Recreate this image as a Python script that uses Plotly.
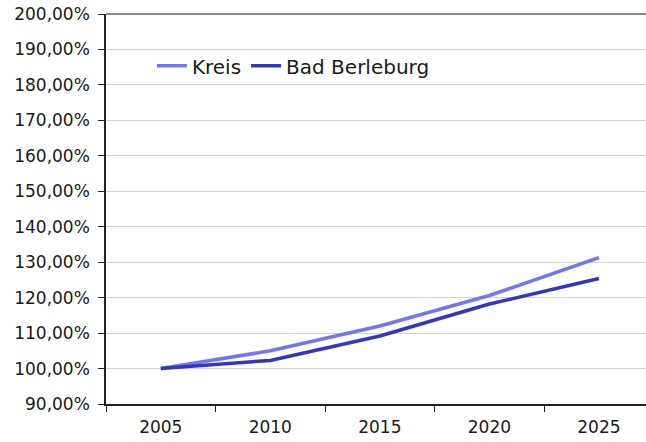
import plotly.graph_objects as go

years = ["2005", "2010", "2015", "2020", "2025"]
kreis = [100.0, 105.0, 112.0, 120.6, 131.3]
bad_berleburg = [100.0, 102.3, 109.2, 118.2, 125.4]
y_ticks = [90, 100, 110, 120, 130, 140, 150, 160, 170, 180, 190, 200]
y_labels = [f"{v},00%" for v in y_ticks]

font = "DejaVu Sans, Verdana, sans-serif"

fig = go.Figure()
fig.add_trace(go.Scatter(x=years, y=kreis, mode="lines", name="Kreis",
                         line=dict(color="#7474f6", width=3.5)))
fig.add_trace(go.Scatter(x=years, y=bad_berleburg, mode="lines", name="Bad Berleburg",
                         line=dict(color="#3535c0", width=3.5)))

fig.update_layout(
    width=646, height=442,
    margin=dict(l=106, r=0, t=14, b=38),
    paper_bgcolor="white", plot_bgcolor="white",
    font=dict(family=font, color="#1a1a1a"),
    showlegend=True,
    legend=dict(orientation="h", x=0.085, y=0.867, xanchor="left", yanchor="middle",
                font=dict(size=20, family=font, color="#1a1a1a"),
                bgcolor="rgba(0,0,0,0)", itemwidth=30, tracegroupgap=0),
)
fig.update_xaxes(
    type="category", range=[-0.5, 4.43],
    tickson="boundaries", ticks="outside", ticklen=6, tickcolor="#222",
    showline=True, linecolor="#222", linewidth=1.5,
    showgrid=False, tickfont=dict(size=17, family=font),
    ticklabelstandoff=7,
)
fig.update_yaxes(
    range=[90, 200], tickvals=y_ticks, ticktext=y_labels,
    ticks="outside", ticklen=6, tickcolor="#222",
    showline=True, linecolor="#222", linewidth=1.5,
    showgrid=True, gridcolor="#d4d4d4", gridwidth=1,
    tickfont=dict(size=17, family=font), ticklabelstandoff=5,
    zeroline=False,
)
fig.add_shape(type="line", xref="paper", yref="paper", x0=0, x1=1, y0=1, y1=1,
              line=dict(color="#888888", width=2))

fig.write_html("out.html")
